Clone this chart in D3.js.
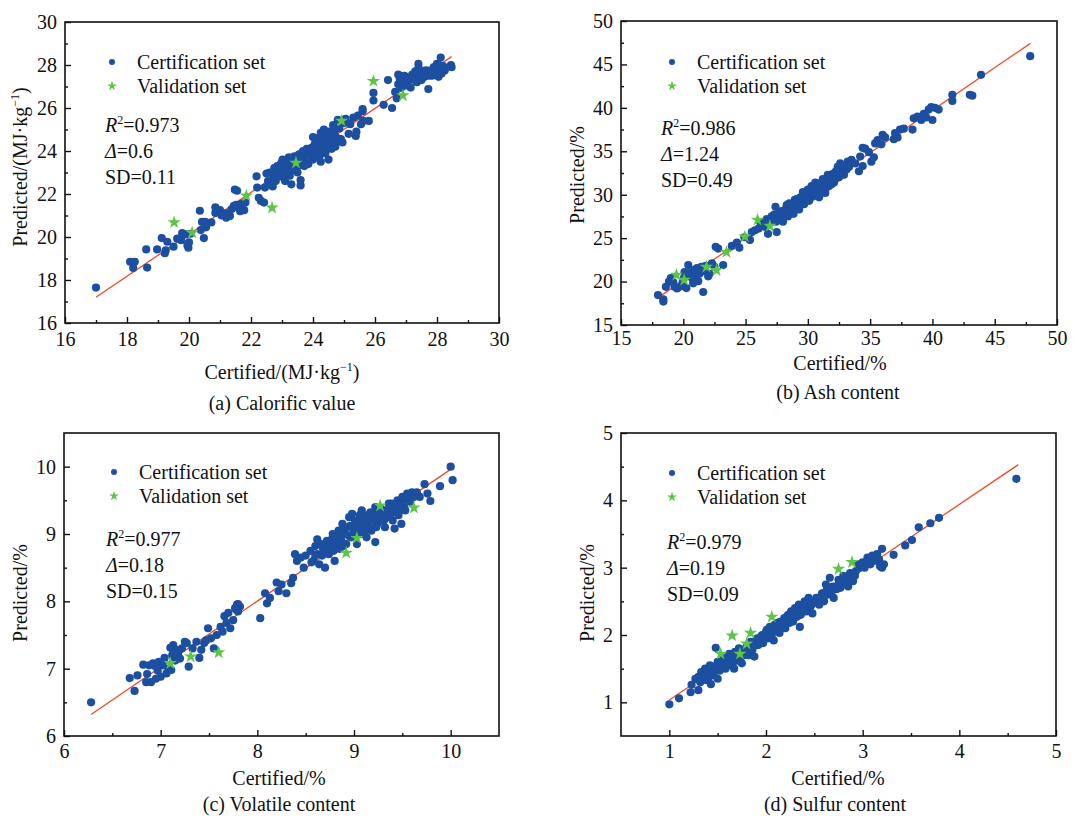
<!DOCTYPE html>
<html>
<head>
<meta charset="utf-8">
<script src="https://cdn.jsdelivr.net/npm/d3@7"></script>
<style>
  body { margin: 0; background: #fff; }
  svg { display: block; }
  svg text { font-family: "Liberation Serif", "Times New Roman", serif !important; }
</style>
</head>
<body>
<svg id="chart" width="1090" height="816"></svg>
<script>
// ---- (a) Calorific value, MJ/kg ----
const calorificCert = [
  [17.0,17.65],[18.1,18.85],[18.25,18.85],[18.2,18.56],[18.62,19.42],[18.65,18.58],[18.97,19.42],[19.12,19.95],
  [19.22,19.25],[19.25,19.38],[19.3,19.78],[19.5,19.55],[19.62,19.92],[19.75,19.85],[19.78,20.18],[19.9,20.12],
  [19.95,19.6],[19.98,19.5],[20.0,19.75],[20.05,20.15],[20.35,21.22],[20.38,20.32],[20.42,20.7],[20.52,20.7],
  [20.48,19.95],[20.55,20.45],[20.72,20.68],[20.85,21.12],[20.85,21.38],[21.0,21.25],[21.05,21.0],[21.15,21.1],
  [21.2,20.9],[21.25,21.1],[21.32,20.98],[21.38,21.3],[21.45,21.45],[21.48,22.2],[21.55,22.15],[21.52,21.5],
  [21.6,21.35],[21.65,21.2],[21.7,21.55],[21.78,21.25],[21.82,21.6],[22.18,22.82],[22.2,22.3],[22.25,21.82],
  [22.32,21.68],[22.42,21.6],[22.45,22.3],[22.5,22.95],[22.6,23.0],[22.62,22.55],[22.7,22.35],[22.75,23.2],
  [22.8,22.6],[22.85,23.3],[22.9,22.9],[22.95,23.1],[22.98,23.45],[23.0,22.8],[23.05,23.25],[23.1,23.5],
  [23.1,22.6],[23.15,23.0],[23.2,23.35],[23.25,22.85],[23.28,23.6],[23.3,22.45],[23.35,23.2],[23.4,23.75],
  [23.45,23.4],[23.5,23.0],[23.55,23.85],[23.6,22.4],[23.6,22.65],[23.65,23.5],[23.7,23.95],[23.75,23.7],
  [23.8,24.1],[23.85,23.4],[23.9,23.9],[23.95,24.15],[24.0,23.6],[24.0,24.65],[24.05,24.3],[24.1,23.75],
  [24.15,24.0],[24.15,24.6],[24.2,24.4],[24.25,23.5],[24.25,24.85],[24.3,24.1],[24.35,25.0],[24.4,24.55],
  [24.4,23.9],[24.45,24.25],[24.5,24.9],[24.5,23.6],[24.55,24.6],[24.6,24.1],[24.65,25.2],[24.7,24.75],
  [24.75,24.4],[24.8,25.45],[24.85,25.05],[24.9,24.55],[24.95,24.4],[25.0,25.3],[25.05,25.5],[25.15,24.8],
  [25.2,25.25],[25.3,25.55],[25.38,24.7],[25.4,24.9],[25.45,25.65],[25.55,25.25],[25.6,25.85],[25.6,25.95],
  [25.62,25.4],[25.8,25.4],[25.95,26.7],[25.95,26.35],[26.28,26.15],[26.42,27.3],[26.55,26.0],[26.65,26.75],
  [26.7,26.45],[26.75,27.1],[26.75,27.55],[26.8,27.35],[26.85,26.95],[26.9,27.2],[26.95,27.5],[27.0,27.05],
  [27.1,27.3],[27.15,26.95],[27.25,27.45],[27.3,27.7],[27.35,27.2],[27.4,27.85],[27.4,28.05],[27.45,27.5],
  [27.5,27.3],[27.55,27.65],[27.6,27.45],[27.7,27.6],[27.72,26.88],[27.8,27.75],[27.85,27.5],[27.9,27.9],
  [27.95,27.65],[28.0,28.05],[28.05,27.45],[28.1,27.8],[28.12,28.35],[28.15,27.6],[28.2,27.95],[28.25,27.75],
  [28.45,28.0],[28.47,27.9],
  [23.02,23.6],[23.12,23.05],[23.22,23.7],[23.32,23.1],[23.42,23.55],[23.52,23.3],[23.62,23.75],[23.72,23.3],
  [23.82,23.85],[23.92,24.05],[24.02,23.95],[24.08,24.5],[24.12,24.2],[24.22,23.8],[24.28,24.65],[24.32,24.35],
  [24.38,24.8],[24.42,24.05],[24.48,24.65],[24.52,24.35],[24.58,24.85],[24.62,24.45],[24.68,24.95],[24.72,24.2],
  [24.78,24.6],[22.92,23.3],[22.82,22.95],[22.72,22.85],[22.55,22.6],[23.38,23.45],[23.58,23.62],[23.68,24.0],
  [26.8,27.5],[26.85,27.25],[26.92,27.4],[26.98,27.25],[27.05,27.4],[27.2,27.55],[27.28,27.35],[27.35,27.6],
  [27.48,27.75],[27.58,27.55],[27.65,27.75],[27.75,27.5],[27.88,27.7],[27.98,27.8],[28.08,28.0],[28.18,27.85]
];
const calorificVal = [[19.52,20.68],[20.1,20.2],[21.85,21.92],[22.68,21.36],[23.45,23.45],[24.92,25.4],[25.95,27.25],[26.9,26.58]];
const calorificFit = [[17.0,17.2],[28.47,28.39]];

// ---- (b) Ash content, % ----
const ashCert = [
  [17.97,18.45],[18.4,17.7],[18.4,17.95],[18.6,19.4],[18.85,20.0],[19.0,20.4],[19.3,19.4],[19.5,19.2],[19.8,19.45],
  [19.95,19.9],[20.05,20.4],[20.1,21.1],[20.25,19.25],[20.4,21.9],[20.5,20.6],[20.6,20.9],[20.75,20.3],[20.8,19.8],
  [20.9,21.35],[21.1,21.55],[21.2,20.05],[21.3,20.9],[21.45,21.7],[21.6,18.8],[21.65,21.2],[21.8,21.8],[22.0,20.6],
  [22.1,20.9],[22.3,22.1],[22.5,21.7],[22.6,24.0],[22.8,23.8],[23.2,21.9],[23.9,24.1],[24.3,24.5],[24.5,23.9],
  [24.9,25.1],[25.35,24.8],[25.5,25.7],[25.75,25.9],[26.05,26.1],[26.3,26.4],[26.5,26.7],[26.8,25.5],[26.9,26.9],
  [27.1,27.5],[27.25,27.1],[27.4,28.6],[27.5,25.7],[27.6,27.8],[27.75,27.3],[27.9,28.1],[28.0,26.9],[28.1,27.7],
  [28.25,28.4],[28.4,27.5],[28.5,29.0],[28.6,28.2],[28.75,28.7],[28.85,27.8],[28.95,29.4],[29.05,28.6],[29.15,29.1],
  [29.3,28.3],[29.4,29.7],[29.5,29.2],[29.6,30.3],[29.7,28.9],[29.8,30.0],[29.9,29.6],[30.0,30.6],[30.1,29.3],
  [30.2,30.1],[30.3,31.0],[30.4,29.8],[30.5,30.5],[30.6,31.4],[30.7,30.1],[30.8,30.9],[30.9,29.7],[31.0,31.3],
  [31.1,30.6],[31.2,31.8],[31.3,30.9],[31.4,30.2],[31.5,31.6],[31.6,32.3],[31.7,31.0],[31.85,31.9],[32.0,32.4],
  [32.1,31.4],[32.25,32.7],[32.4,33.2],[32.5,32.0],[32.6,33.6],[32.75,32.9],[32.9,32.3],[33.0,33.4],[33.2,33.8],
  [33.5,34.0],[33.8,33.6],[34.1,32.7],[34.2,34.4],[34.4,33.3],[34.4,35.4],[34.6,35.3],[34.9,34.9],[35.1,33.8],
  [35.3,34.3],[35.4,35.9],[35.6,36.3],[35.9,35.8],[36.0,36.9],[36.2,36.6],[36.9,36.4],[37.0,37.1],[37.2,36.6],
  [37.4,37.5],[37.7,37.6],[38.4,37.5],[38.5,38.8],[38.8,39.0],[39.1,38.6],[39.3,39.3],[39.5,38.9],[39.7,39.8],
  [39.9,40.1],[40.0,38.6],[40.2,40.0],[40.5,39.8],[41.6,41.5],[41.6,40.8],[43.0,41.5],[43.2,41.4],[43.9,43.8],
  [47.85,45.95],
  [27.3,27.7],[27.8,27.9],[28.2,28.0],[28.3,28.8],[28.7,28.5],[28.9,29.0],[29.1,29.5],[29.25,28.9],[29.45,29.45],
  [29.55,29.75],[29.75,29.5],[29.85,30.3],[29.95,29.9],[30.15,30.45],[30.25,29.7],[30.45,30.8],[30.55,30.2],
  [30.75,30.6],[30.85,31.2],[30.95,30.4],[31.15,31.1],[31.25,31.5],[31.35,30.6],[31.45,31.2],[31.55,30.9],
  [31.75,31.5],[31.9,31.2],[32.05,32.0],[32.2,31.8],[32.35,32.3],[32.55,32.6],[32.7,32.3],[32.85,33.0],[33.1,32.9],
  [33.3,33.2],[26.2,26.8],[26.6,26.3],[26.7,27.2],[27.0,26.8],[27.45,26.9],[21.0,20.8],[20.7,21.2],[21.35,21.3],
  [19.2,19.9],[20.3,20.9]
];
const ashVal = [[19.45,20.76],[20.07,20.18],[21.86,21.7],[22.67,21.3],[23.47,23.4],[24.94,25.17],[25.96,27.1],[26.95,26.4]];
const ashFit = [[17.97,18.15],[47.86,47.42]];

// ---- (c) Volatile content, % ----
const volatileCert = [
  [6.28,6.5],[6.68,6.86],[6.73,6.67],[6.76,6.9],[6.82,7.06],[6.85,6.8],[6.88,7.05],[6.9,6.8],[6.92,7.08],[6.95,6.85],
  [6.97,6.97],[6.98,7.1],[7.0,6.88],[7.04,7.16],[7.06,6.93],[7.08,7.0],[7.1,7.31],[7.11,6.98],[7.13,7.35],[7.15,7.12],
  [7.18,7.22],[7.2,7.15],[7.22,7.3],[7.25,7.4],[7.27,7.38],[7.29,7.03],[7.33,7.3],[7.37,7.4],[7.4,7.16],[7.42,7.28],
  [7.45,7.38],[7.47,7.42],[7.49,7.6],[7.52,7.45],[7.55,7.3],[7.58,7.5],[7.62,7.62],[7.64,7.55],[7.66,7.78],[7.68,7.68],
  [7.7,7.83],[7.72,7.6],[7.75,7.72],[7.77,7.9],[7.79,7.95],[7.8,7.85],[7.82,7.92],[8.03,7.75],[8.08,8.12],[8.1,7.97],
  [8.13,8.05],[8.2,8.28],[8.22,8.15],[8.25,8.25],[8.3,8.12],[8.35,8.27],[8.37,8.35],[8.39,8.7],[8.41,8.6],[8.45,8.65],
  [8.48,8.5],[8.5,8.68],[8.55,8.75],[8.58,8.6],[8.6,8.82],[8.62,8.7],[8.64,8.55],[8.66,8.85],[8.68,8.78],[8.7,8.5],
  [8.72,8.9],[8.74,8.7],[8.76,8.82],[8.78,9.0],[8.8,8.6],[8.8,8.85],[8.82,8.95],[8.84,9.05],[8.85,8.78],[8.87,8.9],
  [8.88,9.15],[8.9,9.0],[8.92,8.85],[8.93,9.1],[8.95,9.25],[8.97,8.95],[8.98,9.3],[9.0,9.05],[9.02,9.15],[9.03,8.85],
  [9.05,9.2],[9.07,9.0],[9.08,9.35],[9.1,9.1],[9.12,9.25],[9.13,8.95],[9.15,9.18],[9.17,9.32],[9.18,9.05],[9.2,9.25],
  [9.22,8.88],[9.22,9.4],[9.24,9.15],[9.26,9.3],[9.28,9.2],[9.3,9.35],[9.32,9.1],[9.34,9.25],[9.36,9.45],[9.38,9.3],
  [9.4,9.2],[9.42,9.08],[9.43,9.42],[9.45,9.5],[9.47,9.35],[9.49,9.15],[9.5,9.55],[9.52,9.4],[9.55,9.6],[9.58,9.48],
  [9.6,9.62],[9.62,9.55],[9.65,9.62],[9.68,9.55],[9.73,9.74],[9.76,9.6],[9.79,9.49],[9.89,9.71],[10.0,10.0],[10.02,9.8],
  [8.62,8.92],[8.67,8.68],[8.72,8.8],[8.77,8.92],[8.79,8.75],[8.83,8.88],[8.86,9.0],[8.89,8.82],[8.91,9.08],[8.94,8.98],
  [8.96,9.12],[8.99,9.0],[9.01,9.2],[9.04,9.08],[9.06,9.28],[9.09,9.15],[9.11,9.05],[9.14,9.28],[9.16,9.1],[9.19,9.2],
  [9.21,9.3],[9.23,9.1],[9.25,9.22],[9.27,9.38],[9.29,9.28],[9.31,9.2],[9.33,9.35],[9.35,9.28],[9.37,9.38],[9.39,9.45],
  [9.41,9.32],[9.44,9.4],[9.46,9.28],[9.48,9.45],[9.51,9.5],[9.53,9.35],[9.56,9.52],[9.6,9.55],[9.63,9.6],[8.56,8.58],
  [8.6,8.68],[7.02,7.05],[6.94,7.04],[6.86,6.92],[7.12,7.2],[7.16,7.28],[7.78,7.88],[7.8,7.96]
];
const volatileVal = [[7.1,7.08],[7.31,7.18],[7.6,7.24],[8.92,8.72],[9.03,8.94],[9.27,9.42],[9.62,9.39]];
const volatileFit = [[6.28,6.32],[10.0,9.96]];

// ---- (d) Sulfur content, % ----
const sulfurCert = [
  [1.0,0.97],[1.1,1.06],[1.22,1.15],[1.23,1.26],[1.3,1.18],[1.27,1.35],[1.3,1.38],[1.32,1.3],[1.35,1.42],[1.37,1.5],
  [1.38,1.33],[1.4,1.45],[1.42,1.55],[1.43,1.27],[1.45,1.4],[1.47,1.5],[1.48,1.81],[1.5,1.35],[1.5,1.6],[1.52,1.47],
  [1.55,1.55],[1.56,1.65],[1.58,1.5],[1.6,1.6],[1.62,1.72],[1.63,1.55],[1.65,1.65],[1.67,1.5],[1.68,1.75],[1.7,1.62],
  [1.72,1.8],[1.74,1.68],[1.75,1.58],[1.77,1.75],[1.8,1.82],[1.82,1.7],[1.84,1.9],[1.86,1.78],[1.88,1.68],[1.9,1.92],
  [1.92,1.85],[1.95,1.98],[1.97,1.88],[2.0,2.05],[2.02,1.95],[2.04,2.12],[2.06,2.0],[2.08,1.92],[2.1,2.1],[2.12,2.18],
  [2.14,2.03],[2.16,2.12],[2.18,2.2],[2.2,2.1],[2.22,2.28],[2.24,2.18],[2.26,2.35],[2.28,2.2],[2.3,2.4],[2.32,2.27],
  [2.34,2.45],[2.35,2.12],[2.36,2.3],[2.38,2.38],[2.4,2.5],[2.42,2.35],[2.44,2.55],[2.46,2.42],[2.48,2.32],[2.5,2.48],
  [2.52,2.55],[2.55,2.45],[2.58,2.62],[2.6,2.5],[2.62,2.75],[2.64,2.6],[2.66,2.85],[2.68,2.65],[2.7,2.55],[2.72,2.72],
  [2.75,2.82],[2.77,2.7],[2.8,2.88],[2.82,2.78],[2.85,2.72],[2.87,2.92],[2.9,2.8],[2.92,2.88],[2.95,3.05],[2.97,3.0],
  [3.0,3.08],[3.05,3.15],[3.08,3.05],[3.1,3.18],[3.12,3.1],[3.15,3.2],[3.17,3.12],[3.2,3.28],[3.2,3.0],[3.22,3.05],
  [3.18,3.02],[3.32,3.19],[3.44,3.33],[3.51,3.41],[3.58,3.6],[3.7,3.66],[3.79,3.74],[4.59,4.32],
  [1.33,1.45],[1.36,1.38],[1.39,1.48],[1.41,1.38],[1.44,1.52],[1.46,1.44],[1.49,1.55],[1.51,1.52],[1.54,1.6],
  [1.57,1.56],[1.59,1.66],[1.61,1.58],[1.64,1.7],[1.66,1.6],[1.69,1.68],[1.71,1.72],[1.73,1.65],[1.76,1.78],
  [1.78,1.7],[1.81,1.78],[1.83,1.85],[1.85,1.82],[1.87,1.9],[1.89,1.85],[1.91,1.95],[1.94,1.9],[1.96,2.0],
  [1.99,1.96],[2.01,2.08],[2.03,2.02],[2.05,2.1],[2.07,2.06],[2.09,2.15],[2.11,2.08],[2.13,2.14],[2.15,2.2],
  [2.17,2.15],[2.19,2.25],[2.21,2.2],[2.23,2.3],[2.25,2.25],[2.27,2.32],[2.29,2.3],[2.31,2.36],[2.33,2.32],
  [2.37,2.42],[2.39,2.35],[2.41,2.45],[2.43,2.4],[2.45,2.5],[2.47,2.45],[2.51,2.5],[2.54,2.55],[2.57,2.52],
  [2.6,2.62],[2.63,2.68],[2.65,2.62],[2.69,2.72],[2.73,2.68],[2.76,2.78],[2.79,2.75],[2.83,2.85],[2.86,2.82],
  [2.89,2.9],[2.93,2.95],[3.02,3.0],[3.06,3.1],[3.13,3.15]
];
const sulfurVal = [[1.53,1.72],[1.65,1.99],[1.73,1.72],[1.8,1.87],[1.84,2.03],[2.06,2.27],[2.75,2.98],[2.89,3.08]];
const sulfurFit = [[1.0,1.034],[4.61,4.53]];

// Axis tick values (major / minor) per panel
const ticksA = { major: [16,18,20,22,24,26,28,30], minor: [17,19,21,23,25,27,29] };
const ticksB = { major: [15,20,25,30,35,40,45,50], minor: [17.5,22.5,27.5,32.5,37.5,42.5,47.5] };
const ticksC = { major: [6,7,8,9,10], minor: [6.5,7.5,8.5,9.5] };
const ticksD = { major: [1,2,3,4,5], minor: [1.5,2.5,3.5,4.5] };

// Statistics shown in each panel
const statsA = { r2: "0.973", delta: "0.6", sd: "0.11" };
const statsB = { r2: "0.986", delta: "1.24", sd: "0.49" };
const statsC = { r2: "0.977", delta: "0.18", sd: "0.15" };
const statsD = { r2: "0.979", delta: "0.19", sd: "0.09" };

const BLUE = "#1d4fa0";
const GREEN = "#5cc447";
const RED = "#f04a2a";
const INK = "#111";

const svg = d3.select("#chart");

function styleTicks(sel) {
  sel.select(".domain").remove();
  sel.selectAll(".tick line").attr("stroke", INK).attr("stroke-width", 1.4);
  sel.selectAll(".tick text").attr("font-size", 20).attr("fill", INK);
}

function drawPanel(p) {
  const x = d3.scaleLinear().domain(p.xDomain).range([p.left, p.right]);
  const y = d3.scaleLinear().domain(p.yDomain).range([p.bottom, p.top]);
  const g = svg.append("g");

  // frame
  g.append("rect")
    .attr("x", p.left).attr("y", p.top)
    .attr("width", p.right - p.left).attr("height", p.bottom - p.top)
    .attr("fill", "none").attr("stroke", INK).attr("stroke-width", 1.6);

  // x axis: inward ticks, labels below
  g.append("g").attr("transform", `translate(0,${p.bottom})`)
    .call(d3.axisBottom(x).tickValues(p.ticks.major).tickSize(-6).tickPadding(p.xPad).tickFormat(d3.format("d")))
    .call(styleTicks);
  g.append("g").attr("transform", `translate(0,${p.bottom})`)
    .call(d3.axisBottom(x).tickValues(p.ticks.minor).tickSize(-3).tickFormat(""))
    .call(styleTicks);

  // y axis
  g.append("g").attr("transform", `translate(${p.left},0)`)
    .call(d3.axisLeft(y).tickValues(p.ticks.major).tickSize(-6).tickPadding(8).tickFormat(d3.format("d")))
    .call(styleTicks);
  g.append("g").attr("transform", `translate(${p.left},0)`)
    .call(d3.axisLeft(y).tickValues(p.ticks.minor).tickSize(-3).tickFormat(""))
    .call(styleTicks);

  // fit line
  g.append("line")
    .attr("x1", x(p.fit[0][0])).attr("y1", y(p.fit[0][1]))
    .attr("x2", x(p.fit[1][0])).attr("y2", y(p.fit[1][1]))
    .attr("stroke", RED).attr("stroke-width", 1.3);

  // certification points
  g.append("g").selectAll("circle").data(p.cert).join("circle")
    .attr("cx", d => x(d[0])).attr("cy", d => y(d[1])).attr("r", 4.1)
    .attr("fill", BLUE);

  // validation points
  const star = d3.symbol().type(d3.symbolStar).size(55);
  g.append("g").selectAll("path").data(p.val).join("path")
    .attr("d", star)
    .attr("transform", d => `translate(${x(d[0])},${y(d[1])})`)
    .attr("fill", GREEN);

  // legend
  g.append("circle").attr("cx", p.legend[0]).attr("cy", p.legend[1]).attr("r", 3).attr("fill", BLUE);
  g.append("text").attr("x", p.legend[0] + 25).attr("y", p.legend[1] + 7)
    .attr("font-size", 20).attr("fill", INK).text("Certification set");
  g.append("path").attr("d", d3.symbol().type(d3.symbolStar).size(30))
    .attr("transform", `translate(${p.legend[0]},${p.legend[1] + 24})`).attr("fill", GREEN);
  g.append("text").attr("x", p.legend[0] + 25).attr("y", p.legend[1] + 31)
    .attr("font-size", 20).attr("fill", INK).text("Validation set");

  // statistics block
  const sx = p.stats.x, sy = p.stats.y;
  const t1 = g.append("text").attr("x", sx).attr("y", sy).attr("font-size", 20).attr("fill", INK);
  t1.append("tspan").attr("font-style", "italic").text("R");
  t1.append("tspan").attr("font-size", 12).attr("dy", -8).text("2");
  t1.append("tspan").attr("dy", 8).text("=" + p.stats.v.r2);
  const t2 = g.append("text").attr("x", sx).attr("y", sy + 26).attr("font-size", 20).attr("fill", INK);
  t2.append("tspan").attr("font-style", "italic").text("Δ");
  t2.append("tspan").text("=" + p.stats.v.delta);
  g.append("text").attr("x", sx).attr("y", sy + 52).attr("font-size", 20).attr("fill", INK)
    .text("SD=" + p.stats.v.sd);

  // axis titles
  const xt = g.append("text").attr("x", p.xTitle[0]).attr("y", p.xTitle[1])
    .attr("text-anchor", "middle").attr("font-size", 20).attr("fill", INK);
  p.xLabel(xt);
  const yt = g.append("text")
    .attr("transform", `translate(${p.yTitle[0]},${p.yTitle[1]}) rotate(-90)`)
    .attr("text-anchor", "middle").attr("font-size", 20).attr("fill", INK);
  p.yLabel(yt);

  // caption
  g.append("text").attr("x", p.caption[0]).attr("y", p.caption[1])
    .attr("text-anchor", "middle").attr("font-size", 20).attr("fill", INK).text(p.captionText);
}

function unitLabel(prefix) {
  return t => {
    t.append("tspan").text(prefix + "/(MJ·kg");
    t.append("tspan").attr("font-size", 12).attr("dy", -8).text("−1");
    t.append("tspan").attr("dy", 8).text(")");
  };
}
function pctLabel(prefix) {
  return t => t.text(prefix + "/%");
}

drawPanel({
  left: 65, right: 499, top: 22, bottom: 323, xPad: 9,
  xDomain: [16, 30], yDomain: [16, 30], ticks: ticksA,
  cert: calorificCert, val: calorificVal, fit: calorificFit,
  legend: [112, 62], stats: { x: 105, y: 132, v: statsA },
  xTitle: [282, 379], yTitle: [27, 167], caption: [282, 410],
  xLabel: unitLabel("Certified"), yLabel: unitLabel("Predicted"),
  captionText: "(a) Calorific value"
});
drawPanel({
  left: 621, right: 1057, top: 21, bottom: 325, xPad: 6,
  xDomain: [15, 50], yDomain: [15, 50], ticks: ticksB,
  cert: ashCert, val: ashVal, fit: ashFit,
  legend: [672, 62], stats: { x: 661, y: 135, v: statsB },
  xTitle: [840, 370], yTitle: [584, 175], caption: [838, 399],
  xLabel: pctLabel("Certified"), yLabel: pctLabel("Predicted"),
  captionText: "(b) Ash content"
});
drawPanel({
  left: 64, right: 499, top: 433, bottom: 736, xPad: 8,
  xDomain: [6, 10.5], yDomain: [6, 10.5], ticks: ticksC,
  cert: volatileCert, val: volatileVal, fit: volatileFit,
  legend: [114, 472], stats: { x: 106, y: 546, v: statsC },
  xTitle: [279, 785], yTitle: [27, 593], caption: [279, 811],
  xLabel: pctLabel("Certified"), yLabel: pctLabel("Predicted"),
  captionText: "(c) Volatile content"
});
drawPanel({
  left: 621, right: 1056, top: 433, bottom: 736, xPad: 8,
  xDomain: [0.5, 5], yDomain: [0.5, 5], ticks: ticksD,
  cert: sulfurCert, val: sulfurVal, fit: sulfurFit,
  legend: [672, 473], stats: { x: 667, y: 549, v: statsD },
  xTitle: [838, 785], yTitle: [594, 593], caption: [835, 811],
  xLabel: pctLabel("Certified"), yLabel: pctLabel("Predicted"),
  captionText: "(d) Sulfur content"
});
</script>
</body>
</html>
